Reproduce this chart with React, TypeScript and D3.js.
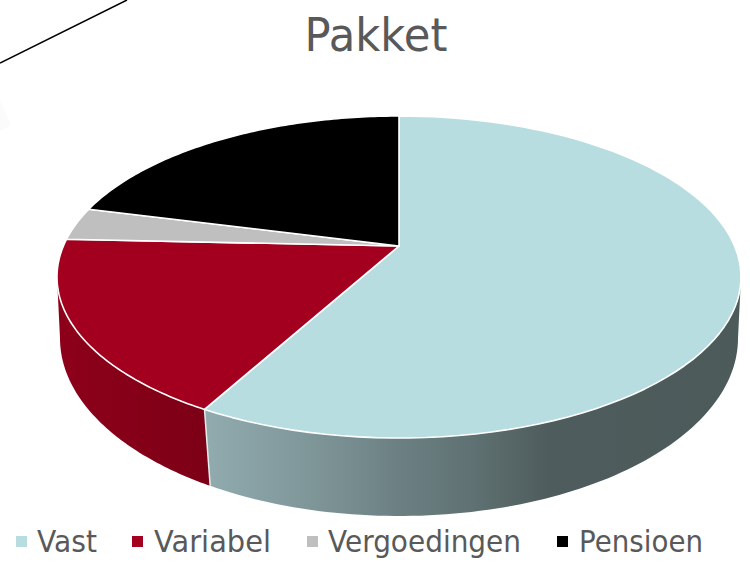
import React from "react";
import * as d3 from "d3";

const categories = ["Vast", "Variabel", "Vergoedingen", "Pensioen"];
const values = [58, 17.7, 3.3, 21];
const colors = ["#b7dde0", "#a2001e", "#bfbfbf", "#000000"];
const title = "Pakket";

const W = 750, H = 563;
const FONT = "'DejaVu Sans',sans-serif";
const TEXT = "#595959";

// Perspective projection of a tilted disc: t is the angle clockwise from the top.
const project = (cx: number, cy: number, rx: number, bottom: number, k: number) => {
  const a = rx * Math.sqrt(1 - k * k);
  const b = bottom * (1 - k);
  return (t: number): [number, number] => {
    const u = Math.sin(t), s = -Math.cos(t);
    const w = 1 - k * s;
    return [cx + (a * u) / w, cy + (b * s) / w];
  };
};
const K = 0.1925;
const rim = project(399, 246, 342, 192, K);
const base = project(399, 304, 339, 212, K);
const BASE_SHIFT = -0.012;

const samples = (t0: number, t1: number, n = 90) =>
  d3.range(n + 1).map((i) => t0 + ((t1 - t0) * i) / n);

const line = d3.line<[number, number]>().x((d) => d[0]).y((d) => d[1]);

const pie = d3.pie<number>().sort(null).value((d) => d)(values);

const apex: [number, number] = [399, 246];

// Angles of the silhouette (left- and rightmost rim points)
const tRight = Math.PI - Math.asin(Math.sqrt(1 - K * K));
const tLeft = 2 * Math.PI - tRight;

const wall = (t0: number, t1: number) => {
  const top = samples(t0, t1).map(rim);
  const bot = samples(t1, t0).map((t) => base(t + (t > tRight + 0.05 && t < tLeft - 0.05 ? BASE_SHIFT : 0)));
  return line([...top, ...bot]) + "Z";
};

const legendSquares = [16, 132, 307, 557];
const legendText = [37, 154, 328, 579];
const legendLen = [60, 117, 193, 124];

export default function App() {
  const seam = pie[0].endAngle;
  return (
    <svg
      width={W}
      height={H}
      viewBox={`0 0 ${W} ${H}`}
      style={{ position: "absolute", left: 0, top: 0, background: "#fff" }}
    >
      <defs>
        <linearGradient id="wallA" gradientUnits="userSpaceOnUse" x1={205} x2={741} y1={0} y2={0}>
          <stop offset="0" stopColor="#91abae" />
          <stop offset="0.2" stopColor="#7f9699" />
          <stop offset="0.36" stopColor="#6c8083" />
          <stop offset="0.5" stopColor="#5f7172" />
          <stop offset="0.64" stopColor="#4f5c5d" />
          <stop offset="1" stopColor="#4d5a5a" />
        </linearGradient>
        <linearGradient id="wallB" gradientUnits="userSpaceOnUse" x1={57} x2={209} y1={0} y2={0}>
          <stop offset="0" stopColor="#8e001a" />
          <stop offset="1" stopColor="#7c0016" />
        </linearGradient>
      </defs>

      <line x1={0} y1={63} x2={127} y2={0} stroke="#000" strokeWidth={1.5} />
      <path d="M0,100 L11,125 L0,131 Z" fill="#fbfbfb" />

      <text x={376} y={51} textAnchor="middle" fontFamily={FONT} fontSize={47} fill={TEXT}
        textLength={143} lengthAdjust="spacingAndGlyphs">{title}</text>

      <path d={wall(tRight, seam)} fill="url(#wallA)" />
      <path d={wall(seam, tLeft)} fill="url(#wallB)" />
      <path d={line([rim(seam), base(seam + BASE_SHIFT)]) ?? ""} stroke="#e6eeee" strokeWidth={1.5} fill="none" />

      {pie.map((p, i) => (
        <path
          key={categories[i]}
          d={line([apex, ...samples(p.startAngle, p.endAngle).map(rim)]) + "Z"}
          fill={colors[i]}
          stroke="#fff"
          strokeWidth={1.6}
          strokeLinejoin="round"
        />
      ))}

      {categories.map((c, i) => (
        <g key={c}>
          <rect x={legendSquares[i]} y={536} width={11} height={11} fill={colors[i]} />
          <text x={legendText[i]} y={552} fontFamily={FONT} fontSize={30} fill={TEXT}
            textLength={legendLen[i]} lengthAdjust="spacingAndGlyphs">{c}</text>
        </g>
      ))}
    </svg>
  );
}
